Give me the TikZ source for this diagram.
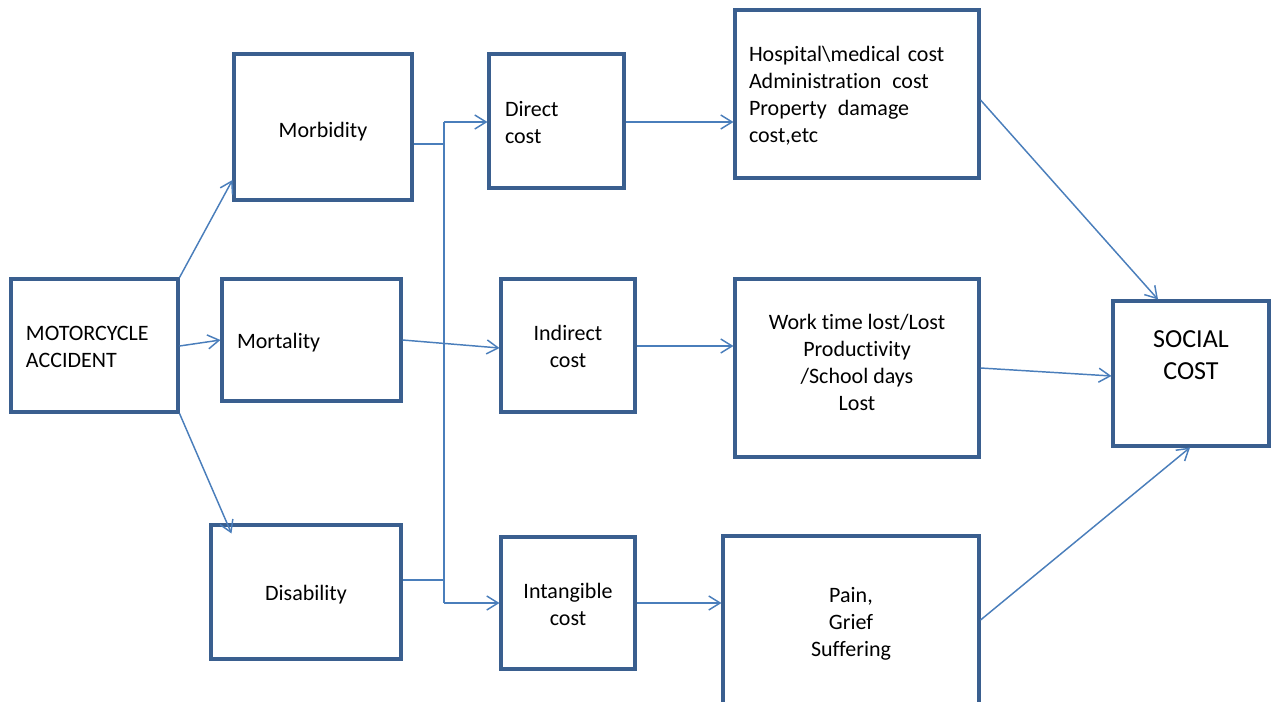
\documentclass[tikz,border=0pt]{standalone}
\usepackage{fontspec}
\setmainfont{Carlito}[Ligatures={NoCommon,NoRequired,NoContextual},RawFeature={-calt;-liga;-clig}]
\usetikzlibrary{arrows.meta}
\definecolor{boxblue}{HTML}{3A5F8F}
\definecolor{lineblue}{HTML}{4A7EBB}
\newlength\liftamt
\newcommand\lift[1]{\raisebox{\liftamt}[\height][\depth]{#1}}
\begin{document}
\begin{tikzpicture}[x=0.75pt,y=-0.75pt,
  box/.style={draw=boxblue, line width=2.3pt, rectangle, inner sep=0pt,
    font=\fontsize{16.5pt}{20.25pt}\selectfont, text=black},
  tshift/.style={execute at begin node={\setlength\liftamt{#1}}},
  conn/.style={draw=lineblue, line width=1.1pt, -{Straight Barb[length=8.5pt,width=10.5pt,line width=1.1pt]}},
  plain/.style={draw=lineblue, line width=1.1pt}
]
\useasboundingbox (0,0) rectangle (1274,702);
\clip (0,0) rectangle (1274,702);

% boxes
\node[box, tshift=-0.75pt, minimum width=167*0.75pt, minimum height=133*0.75pt, text width=137*0.75pt, align=left] (ma) at (94.5,345.5) {\lift{MOTORCYCLE}\\\lift{ACCIDENT}};
\node[box, tshift=-3.75pt, minimum width=178*0.75pt, minimum height=146*0.75pt, align=center] (morb) at (323,127) {\lift{Morbidity}};
\node[box, tshift=-2.25pt, minimum width=179*0.75pt, minimum height=122*0.75pt, text width=149*0.75pt, align=left] (mort) at (311.5,340) {\lift{Mortality}};
\node[box, tshift=-2.25pt, minimum width=190*0.75pt, minimum height=134*0.75pt, align=center] (dis) at (306,592) {\lift{Disability}};
\node[box, tshift=-1.5pt, minimum width=135*0.75pt, minimum height=134*0.75pt, text width=103*0.75pt, align=left] (direct) at (556.5,121) {\lift{Direct}\\\lift{cost}};
\node[box, tshift=-0.75pt, minimum width=134*0.75pt, minimum height=133*0.75pt, align=center] (indir) at (568,345.5) {\lift{Indirect}\\\lift{cost}};
\node[box, tshift=-0.75pt, minimum width=134*0.75pt, minimum height=132*0.75pt, align=center] (intang) at (568,603) {\lift{Intangible}\\\lift{cost}};
\node[box, tshift=-1.5pt, minimum width=244*0.75pt, minimum height=168*0.75pt, text width=216*0.75pt, align=left] (tr) at (857,94) {\lift{Hospital\textbackslash medical cost}\\\lift{Administration\ \,cost}\\\lift{Property\ \,damage}\\\lift{cost,etc}};
\node[box, tshift=4.5pt, minimum width=244*0.75pt, minimum height=178*0.75pt, align=center] (mr) at (857,368) {\lift{Work time lost/Lost}\\\lift{Productivity}\\\lift{/School days}\\\lift{Lost}};
\node[box, tshift=-2.25pt, minimum width=256*0.75pt, minimum height=170*0.75pt, align=center] (br) at (851,621) {\lift{Pain,}\\\lift{Grief}\\\lift{Suffering}};
\node[box, tshift=1.5pt, minimum width=156*0.75pt, minimum height=145*0.75pt, align=center,
  font=\fontsize{19.5pt}{24pt}\selectfont] (social) at (1191,373.5) {\lift{SOCIAL}\\\lift{COST}\\\mbox{}};

% bus
\coordinate (bt) at (444,122);
\coordinate (bb) at (444,603);

% connectors
\draw[conn] (ma.north east) -- (morb.west |- 0,180);
\draw[conn] (ma.east |- 0,346) -- (mort.west |- 0,340);
\draw[conn] (ma.south east) -- ([shift={(22,10)}]dis.north west);

\draw[plain] (morb.east |- 0,144) -- (bt |- 0,144);
\draw[plain] (dis.east |- 0,580) -- (bt |- 0,580);
\draw[plain] (bt) -- (bb);
\draw[conn] (bt) -- (direct.west |- bt);
\draw[conn] (bb) -- (intang.west |- bb);
\draw[conn] (mort.east |- 0,340) -- (indir.west |- 0,348);

\draw[conn] (direct.east |- 0,122) -- (tr.west |- 0,122);
\draw[conn] (indir.east |- 0,346) -- (mr.west |- 0,346);
\draw[conn] (intang.east |- 0,603) -- (br.west |- 0,603);

\draw[conn] (tr.east |- 0,100) -- (social.north -| 1158,0);
\draw[conn] (mr.east |- 0,368) -- (social.west |- 0,376);
\draw[conn] (br.east |- 0,620) -- (social.south -| 1190,0);
\end{tikzpicture}
\end{document}
